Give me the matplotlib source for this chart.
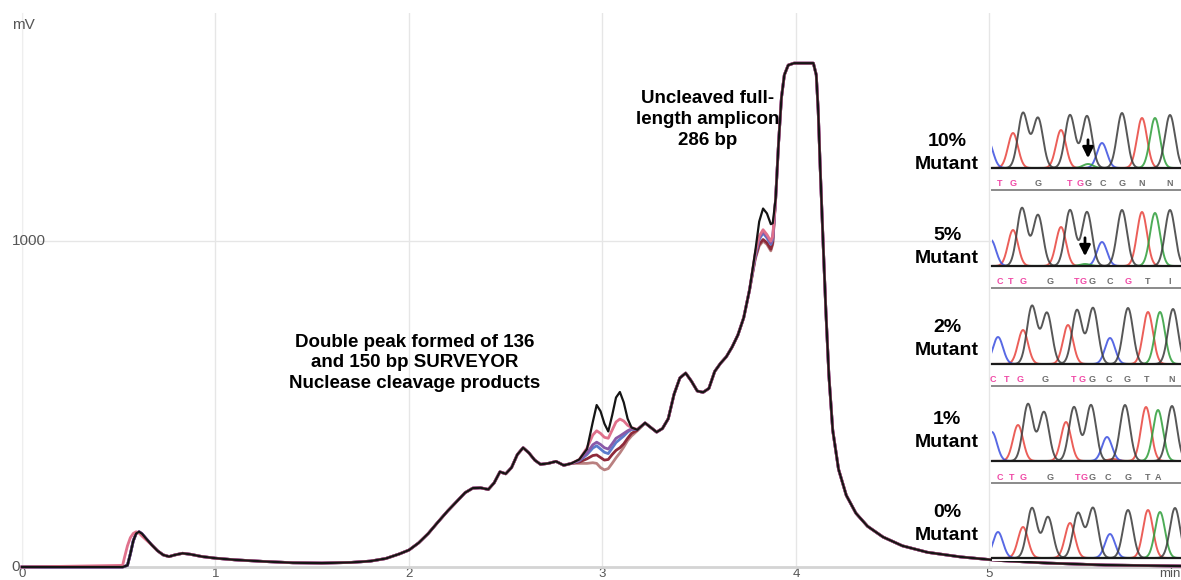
import matplotlib.pyplot as plt
import numpy as np

plt.rcParams['font.family'] = ['Liberation Sans', 'DejaVu Sans']

# --- capillary electropherogram, minutes / mV (black trace, full run) ---
time_min = [0.00, 0.52, 0.545, 0.56, 0.575, 0.59, 0.605, 0.62, 0.64, 0.67,
            0.70, 0.73, 0.76, 0.79, 0.83, 0.87, 0.93, 1.00, 1.10, 1.25,
            1.40, 1.55, 1.70, 1.80, 1.88, 1.95, 2.00, 2.05, 2.10, 2.15,
            2.20, 2.25, 2.29, 2.33, 2.37, 2.41, 2.44, 2.47, 2.50, 2.53,
            2.56, 2.59, 2.62, 2.65, 2.68, 2.72, 2.76, 2.80, 2.84, 2.88,
            2.92, 2.95, 2.97, 2.99, 3.01, 3.03, 3.05, 3.07, 3.09, 3.11,
            3.13, 3.15, 3.18, 3.22, 3.25, 3.28, 3.31, 3.34, 3.37, 3.40,
            3.43, 3.46, 3.49, 3.52, 3.55, 3.58, 3.61, 3.64, 3.67, 3.70,
            3.73, 3.76, 3.79, 3.81, 3.83, 3.85, 3.87, 3.88, 3.895, 3.91,
            3.925, 3.94, 3.96, 3.99, 4.09, 4.105, 4.115, 4.125, 4.14, 4.155,
            4.17, 4.19, 4.22, 4.26, 4.31, 4.37, 4.45, 4.55, 4.68, 4.85,
            5.05, 5.30, 5.60, 5.99]
signal_mv = [0, 0, 5, 40, 80, 103, 108, 102, 88, 68,
             50, 37, 32, 37, 42, 39, 32, 27, 22, 17,
             13, 12, 14, 18, 26, 40, 52, 74, 103, 138,
             172, 203, 228, 242, 243, 238, 258, 292, 286, 305,
             345, 366, 350, 328, 315, 318, 324, 312, 318, 330,
             362, 445, 497, 478, 440, 416, 465, 520, 537, 505,
             455, 428, 421, 442, 428, 414, 425, 455, 530, 580,
             595, 570, 540, 536, 548, 600, 625, 645, 675, 712,
             765, 850, 970, 1060, 1100, 1085, 1052, 1055, 1130, 1300,
             1440, 1510, 1540, 1546, 1546, 1510, 1400, 1230, 1000, 780,
             590, 420, 300, 220, 165, 125, 92, 65, 45, 31,
             20, 12, 6, 3]

# the other runs only depart from the black one in these windows
early_t = [0.52, 0.53, 0.545, 0.56, 0.575, 0.59, 0.605, 0.62, 0.64]
pink_early = [5, 30, 65, 90, 103, 108, 104, 95, 84]

cleave_t = [2.88, 2.92, 2.95, 2.97, 2.99, 3.01, 3.03, 3.05, 3.07, 3.09, 3.11, 3.13, 3.15, 3.18]
pink_cleave = [330, 365, 405, 418, 410, 398, 395, 420, 445, 454, 448, 435, 428, 422]
purple_cleave = [328, 350, 375, 383, 376, 366, 362, 378, 395, 402, 410, 418, 424, 422]
blue_cleave = [326, 345, 365, 372, 362, 352, 348, 365, 382, 392, 402, 414, 422, 422]
maroon_cleave = [322, 332, 342, 344, 336, 328, 330, 345, 358, 366, 378, 395, 410, 420]
rosy_cleave = [318, 318, 320, 318, 305, 298, 302, 318, 335, 350, 368, 388, 402, 418]

bump_t = [3.79, 3.81, 3.83, 3.85, 3.87, 3.88]
pink_bump = [965, 1015, 1035, 1020, 1000, 1015]
purple_bump = [960, 1010, 1030, 1015, 995, 1010]
blue_bump = [955, 1005, 1025, 1010, 990, 1005]
maroon_bump = [950, 990, 1005, 995, 975, 995]
rosy_bump = [945, 985, 1000, 990, 970, 990]

# --- Sanger chromatograms: peak position (scan), base, height ---
p10_pos = [-2, 23, 33, 48, 71, 80, 97, 98, 112, 132, 152, 165, 180]
p10_base = 'CTGGTGGACGTAG'
p10_h = [27, 35, 55, 50, 38, 53, 52, 4, 25, 55, 50, 50, 53]
p05_pos = [1, 23, 32, 48, 71, 80, 97, 95, 112, 132, 152, 165, 180]
p05_base = 'CTGGTGGACGTAG'
p05_h = [26, 36, 58, 51, 39, 56, 54, 2, 24, 56, 54, 53, 56]
p02_pos = [8, 33, 42, 57, 78, 87, 103, 120, 138, 158, 170, 183]
p02_base = 'CTGGTGGCGTAG'
p02_h = [27, 34, 58, 51, 39, 54, 56, 26, 56, 52, 52, 55]
p01_pos = [2, 28, 38, 54, 76, 84, 101, 117, 123, 135, 156, 168, 182]
p01_base = 'CTGGTGGCTGTAG'
p01_h = [29, 36, 57, 49, 39, 54, 56, 24, 2, 56, 54, 51, 55]
p00_pos = [8, 33, 42, 58, 80, 88, 103, 120, 138, 158, 170, 185]
p00_base = 'CTGGTGGCGTAG'
p00_h = [26, 31, 50, 41, 35, 45, 50, 24, 48, 48, 46, 50]

# base calls printed under each chromatogram (1 = highlighted)
p10_call, p10_call_x, p10_call_hl = 'TGGTGGCGNN', [10, 23, 48, 80, 90, 98, 113, 132, 152, 180], '1101100000'
p05_call, p05_call_x, p05_call_hl = 'CTGGTGGCGTI', [10, 21, 33, 60, 87, 93, 102, 120, 138, 158, 180], '11101100100'
p02_call, p02_call_x, p02_call_hl = 'CTGGTGGCGTN', [3, 17, 30, 55, 84, 92, 102, 119, 137, 157, 182], '11101100000'
p01_call, p01_call_x, p01_call_hl = 'CTGGTGGCGTA', [10, 22, 33, 60, 88, 94, 102, 118, 138, 158, 168], '11101100000'

panel_labels = ['10%\nMutant', '5%\nMutant', '2%\nMutant', '1%\nMutant', '0%\nMutant']


def merged(windows):
    t = np.array(time_min, dtype=float)
    v = np.array(signal_mv, dtype=float)
    for wt, wv in windows:
        keep = (t < min(wt)) | (t > max(wt))
        t = np.concatenate([t[keep], wt])
        v = np.concatenate([v[keep], wv])
        order = np.argsort(t)
        t, v = t[order], v[order]
    return t, v


W, H = 1181, 580
fig = plt.figure(figsize=(W / 100, H / 100), dpi=100)
ax = fig.add_axes([22 / W, 13 / H, 1159 / W, 554 / H])
ax.set_xlim(0, 5.99)
ax.set_ylim(0, 1700)

runs = [
    ('#b98080', [(bump_t, rosy_bump), (cleave_t, rosy_cleave)]),
    ('#8e2a3a', [(bump_t, maroon_bump), (cleave_t, maroon_cleave)]),
    ('#5b7ccc', [(bump_t, blue_bump), (cleave_t, blue_cleave)]),
    ('#8a5aa8', [(bump_t, purple_bump), (cleave_t, purple_cleave)]),
    ('#e0718c', [(early_t, pink_early), (bump_t, pink_bump), (cleave_t, pink_cleave)]),
]
for color, windows in runs:
    t, v = merged(windows)
    ax.plot(t, v, color=color, lw=2.0, clip_on=False, zorder=3, solid_joinstyle='round')
ax.plot(time_min, signal_mv, color='#151515', lw=1.6, clip_on=False, zorder=4, solid_joinstyle='round')

ax.set_xticks(range(6))
ax.set_yticks([0, 1000])
ax.grid(True, color='#e6e6e6', lw=1)
ax.tick_params(length=0, labelsize=9.5, colors='#555555', pad=0.5)
ax.set_yticklabels([])
for s in ['top', 'right']:
    ax.spines[s].set_visible(False)
ax.spines['left'].set_color('#eeeeee')
ax.spines['bottom'].set_color('#d4d4d4')
ax.spines['bottom'].set_linewidth(2)
yt = ax.get_yaxis_transform()
ax.text(-0.009, 1000, '1000', transform=yt, ha='left', va='center', fontsize=11, color='#555555')
ax.text(-0.009, 0, '0', transform=yt, ha='left', va='center', fontsize=11, color='#555555')
fig.text(12 / W, 1 - 25 / H, 'mV', ha='left', va='center', fontsize=11, color='#555555')
ax.text(1.0, -0.001, 'min', transform=ax.transAxes, ha='right', va='top', fontsize=9.5, color='#555555')

bold = dict(fontsize=13.5, fontweight='bold', ha='center', va='center', linespacing=1.3, zorder=6)
ax.text(3.545, 1374, 'Uncleaved full-\nlength amplicon\n286 bp', **bold)
ax.text(2.031, 626, 'Double peak formed of 136\nand 150 bp SURVEYOR\nNuclease cleavage products', **bold)

# white backing for the chromatogram strip
bg = fig.add_axes([992 / W, (H - 561) / H, 189 / W, 461 / H])
bg.set_facecolor('white')
bg.set_xticks([])
bg.set_yticks([])
for s in bg.spines.values():
    s.set_visible(False)

base_colors = {'A': '#2e9e3a', 'C': '#3b4fe0', 'G': '#3a3a3a', 'T': '#e8433c'}
panels = [
    (168, p10_pos, p10_base, p10_h, (p10_call, p10_call_x, p10_call_hl), 98),
    (266, p05_pos, p05_base, p05_h, (p05_call, p05_call_x, p05_call_hl), 95),
    (364, p02_pos, p02_base, p02_h, (p02_call, p02_call_x, p02_call_hl), None),
    (461, p01_pos, p01_base, p01_h, (p01_call, p01_call_x, p01_call_hl), None),
    (558, p00_pos, p00_base, p00_h, None, None),
]
label_px = [153, 247, 339, 431, 524]
x = np.linspace(-15, 205, 900)
for (base_px, pos, bases, heights, calls, arrow_x), label, ly in zip(panels, panel_labels, label_px):
    pax = fig.add_axes([992 / W, (H - base_px) / H, 189 / W, 62 / H])
    pax.set_xlim(2, 191)
    pax.set_ylim(0, 62)
    pax.axis('off')
    for b in 'TCAG':
        y = np.zeros_like(x)
        for p, bb, h in zip(pos, bases, heights):
            if bb == b:
                y += h * np.exp(-(x - p) ** 2 / (2 * 5.0 ** 2))
        pax.plot(x, y, color=base_colors[b], lw=1.4, alpha=0.85)
    pax.plot([2, 191], [0, 0], color='#1a1a1a', lw=1.6, clip_on=False)
    if calls is not None:
        letters, lx, hl = calls
        for ch, xx, flag in zip(letters, lx, hl):
            pax.text(xx, -16, ch, ha='center', va='center', fontsize=6.5, fontweight='bold',
                     color='#f04aa6' if flag == '1' else '#6e6e6e', clip_on=False)
        pax.plot([2, 191], [-22, -22], color='#8a8a8a', lw=1.4, clip_on=False)
    if arrow_x is not None:
        pax.annotate('', xy=(arrow_x, 7), xytext=(arrow_x, 31),
                     arrowprops=dict(arrowstyle='-|>', color='black', lw=2, mutation_scale=16))
    fig.text(947 / W, 1 - ly / H, label, ha='center', va='center', fontsize=14,
             fontweight='bold', linespacing=1.45)

fig.savefig('out.png', dpi=100)
